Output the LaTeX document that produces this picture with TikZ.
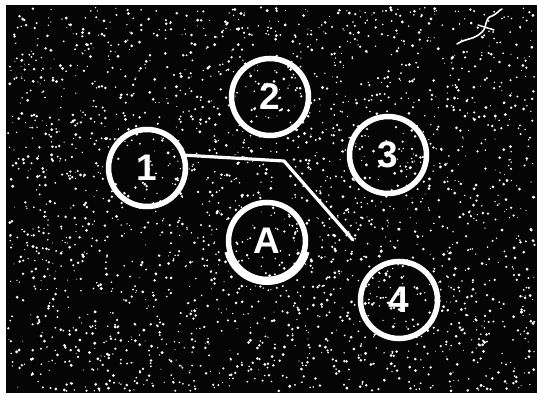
\documentclass[tikz,border=0pt]{standalone}
\usepackage{fontspec}
\setsansfont{Liberation Sans}
\usepackage{tikz}
\usetikzlibrary{positioning,calc}
\definecolor{ink}{HTML}{050505}
\definecolor{chalk}{HTML}{FFFFFF}
\tikzset{
  well/.style={circle,draw=chalk,line width=5.5pt,minimum size=77pt,inner sep=0pt,
    text=chalk,font=\sffamily\bfseries\fontsize{37}{37}\selectfont},
  trace/.style={draw=chalk,line width=3.2pt,line join=round,line cap=round},
  speck/.style={fill=chalk},
}

\begin{document}
\begin{tikzpicture}[x=1pt,y=1pt]
  \useasboundingbox (0,0) rectangle (537,396);
  \fill[white] (0,0) rectangle (537,396);
  \fill[ink] (6,3) rectangle (537,391);
  % speckle
  \pgfmathsetseed{4242}
  \foreach \i in {1,...,2600}{
    \pgfmathsetmacro\px{8+527*rnd}
    \pgfmathsetmacro\py{5+384*rnd}
    \pgfmathsetmacro\pr{0.5+1.1*rnd}
    \fill[speck] (\px,\py) circle (\pr);
  }
  \node[well] (n1) at (147,228) {1};
  \node[well] (n2) at (270,299) {2};
  \node[well] (n3) at (388,241) {3};
  \node[well] (na) at (267,155) {A};
  \node[well] (n4) at (399,96) {4};
  % thicker rim under A
  \draw[chalk,line width=8pt] (na) ++(195:40) arc (195:345:40);
  \coordinate (bend) at (284,235);
  \coordinate (tip) at (353,156);
  \draw[trace] (n1.18) -- (bend) -- (tip);
  % mark top right
  \draw[chalk,line width=1.6pt,line cap=round]
    (457,352) .. controls (466,358) and (474,356) .. (482,364)
    .. controls (488,370) and (484,378) .. (492,380)
    .. controls (497,382) and (499,386) .. (502,387);
  \draw[chalk,line width=1.4pt,line cap=round] (478,371) -- (494,366);
\end{tikzpicture}
\end{document}
